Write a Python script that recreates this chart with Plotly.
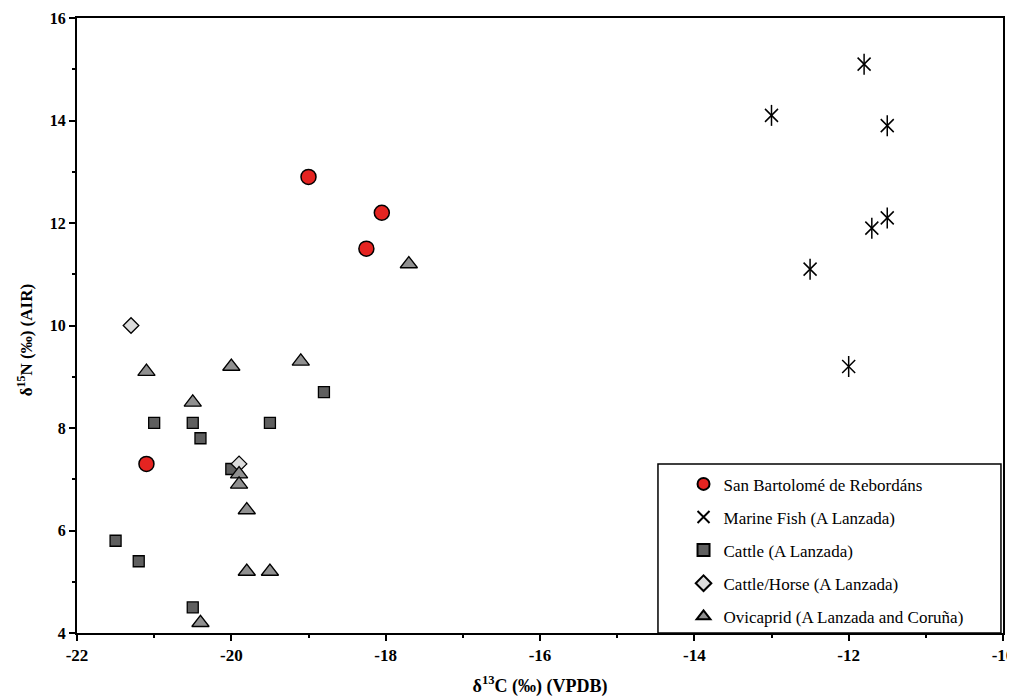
import plotly.graph_objects as go

# San Bartolomé de Rebordáns
sb_x = [-19.0, -18.05, -18.25, -21.1]
sb_y = [12.9, 12.2, 11.5, 7.3]

# Marine fish (A Lanzada)
fish_x = [-11.8, -13.0, -11.5, -11.5, -11.7, -12.5, -12.0]
fish_y = [15.1, 14.1, 13.9, 12.1, 11.9, 11.1, 9.2]

# Cattle (A Lanzada)
cattle_x = [-18.8, -21.0, -20.5, -19.5, -20.4, -20.0, -21.5, -21.2, -20.5]
cattle_y = [8.7, 8.1, 8.1, 8.1, 7.8, 7.2, 5.8, 5.4, 4.5]

# Cattle/Horse (A Lanzada)
ch_x = [-21.3, -19.9]
ch_y = [10.0, 7.3]

# Ovicaprid (A Lanzada and Coruña)
ovi_x = [-17.7, -21.1, -20.0, -19.1, -20.5, -19.9, -19.9, -19.8, -19.8, -19.5, -20.4]
ovi_y = [11.2, 9.1, 9.2, 9.3, 8.5, 7.1, 6.9, 6.4, 5.2, 5.2, 4.2]

x_ticks = [-22, -20, -18, -16, -14, -12, -10]
y_ticks = [4, 6, 8, 10, 12, 14, 16]

SERIF = "Liberation Serif"

fig = go.Figure()

fig.add_trace(go.Scatter(
    x=sb_x, y=sb_y, mode="markers", name="San Bartolomé de Rebordáns",
    legendgroup="a",
    marker=dict(symbol="circle", size=15, color="#E52421",
                line=dict(color="black", width=1.5))))

fig.add_trace(go.Scatter(
    x=fish_x, y=fish_y, mode="markers", name="Marine Fish (A Lanzada)",
    legendgroup="b",
    marker=dict(symbol="x-thin-open", size=13, color="black",
                line=dict(color="black", width=1.5))))
fig.add_trace(go.Scatter(
    x=fish_x, y=fish_y, mode="markers", name="Marine Fish (A Lanzada)",
    legendgroup="b", showlegend=False,
    marker=dict(symbol="line-ns-open", size=15, color="black",
                line=dict(color="black", width=1.5))))

fig.add_trace(go.Scatter(
    x=cattle_x, y=cattle_y, mode="markers", name="Cattle (A Lanzada)",
    legendgroup="c",
    marker=dict(symbol="square", size=11, color="#5f5f5f",
                line=dict(color="black", width=1.3))))

fig.add_trace(go.Scatter(
    x=ch_x, y=ch_y, mode="markers", name="Cattle/Horse (A Lanzada)",
    legendgroup="d",
    marker=dict(symbol="diamond", size=12, color="#dcdcdc",
                line=dict(color="black", width=1.3))))

fig.add_trace(go.Scatter(
    x=ovi_x, y=ovi_y, mode="markers", name="Ovicaprid (A Lanzada and Coruña)",
    legendgroup="e",
    marker=dict(symbol="triangle-up", size=15, color="#909090",
                line=dict(color="black", width=1.3))))

axis_common = dict(
    showgrid=False, zeroline=False, showline=True, linecolor="black",
    linewidth=2, mirror=True, ticks="outside", ticklen=6, tickwidth=1.5,
    tickcolor="black", automargin=False,
)

fig.update_layout(
    width=1007, height=689,
    margin=dict(l=69, r=12, t=10, b=64),
    plot_bgcolor="white", paper_bgcolor="white",
    font=dict(family=SERIF, color="black"),
    xaxis=dict(
        range=[-22, -10], tickvals=x_ticks,
        ticktext=["<b>%d</b>" % v for v in x_ticks],
        tickfont=dict(family=SERIF, size=17),
        minor=dict(dtick=1, ticks="outside", ticklen=3, tickcolor="black"),
        title=dict(text="<b>δ<sup>13</sup>C (‰) (VPDB)</b>",
                   font=dict(family=SERIF, size=18), standoff=19),
        **axis_common),
    yaxis=dict(
        range=[4, 16], tickvals=y_ticks,
        ticktext=["<b>%d</b>" % v for v in y_ticks],
        tickfont=dict(family=SERIF, size=16),
        minor=dict(dtick=1, ticks="outside", ticklen=3, tickcolor="black"),
        **axis_common),
    annotations=[dict(
        text="<b>δ<sup>15</sup>N (‰) (AIR)</b>", textangle=-90,
        xref="paper", yref="paper", x=-0.0562, y=0.476,
        xanchor="center", yanchor="middle", showarrow=False,
        font=dict(family=SERIF, size=17))],
    legend=dict(
        x=0.655, y=0.271, xanchor="left", yanchor="top",
        bgcolor="rgba(0,0,0,0)", borderwidth=0,
        font=dict(family=SERIF, size=17),
        traceorder="grouped", tracegroupgap=8,
        itemwidth=30, itemsizing="constant",
    ),
    shapes=[dict(type="rect", xref="paper", yref="paper",
                 x0=0.6274, x1=0.9978, y0=0.0, y1=0.2746,
                 line=dict(color="black", width=1.5),
                 fillcolor="white", layer="below")],
)

fig.write_html("out.html")
